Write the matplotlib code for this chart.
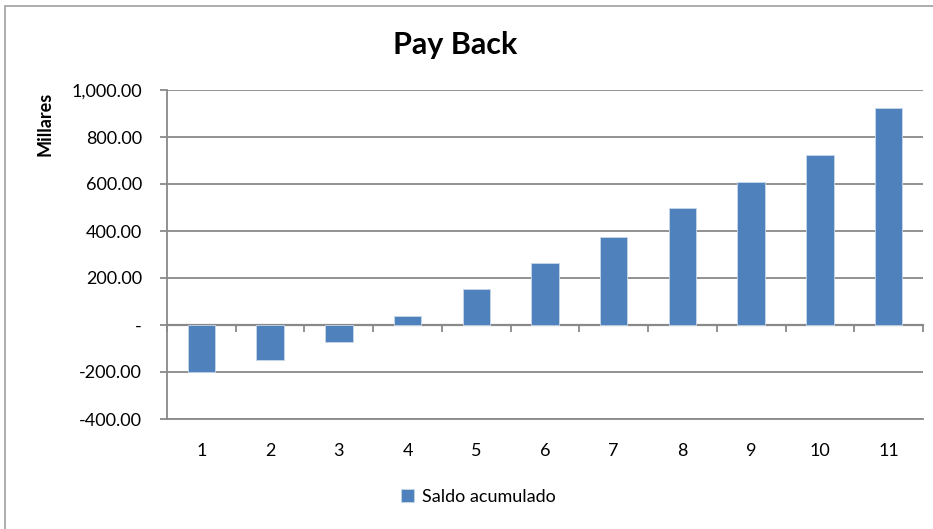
import matplotlib.pyplot as plt
from matplotlib.patches import Rectangle

periods = ['1', '2', '3', '4', '5', '6', '7', '8', '9', '10', '11']
saldo = [-200, -148, -72, 39, 152, 265, 376, 496, 609, 723, 923]
y_ticks = [-400, -200, 0, 200, 400, 600, 800, 1000]
y_labels = ['-400.00', '-200.00', '-', '200.00', '400.00', '600.00', '800.00', '1,000.00']

bar_color = '#4F81BD'
grid_color = '#898989'

plt.rcParams['font.family'] = ['Lato', 'DejaVu Sans']

fig = plt.figure(figsize=(9.33, 5.29), dpi=100)
ax = fig.add_axes([167 / 933, 1 - 419 / 529, (923 - 167) / 933, (419 - 90) / 529])

x = list(range(1, len(periods) + 1))
ax.bar(x, saldo, width=0.4, color=bar_color, edgecolor='#C9D7EA', linewidth=0.6,
       label='Saldo acumulado', zorder=3)

ax.set_xlim(0.5, len(periods) + 0.5)
ax.set_ylim(-400, 1000)
ax.set_yticks(y_ticks)
ax.set_yticklabels(y_labels, fontsize=13)
ax.yaxis.grid(True, color=grid_color, linewidth=1.3, zorder=0)

ax.set_xticks(x)
ax.set_xticklabels(periods, fontsize=13)
ax.tick_params(axis='x', length=0, pad=17)
ax.tick_params(axis='y', length=5, width=1.3, color=grid_color, pad=13)

for side in ['top', 'right']:
    ax.spines[side].set_visible(False)
ax.spines['bottom'].set_color(grid_color)
ax.spines['bottom'].set_linewidth(1.3)
ax.spines['left'].set_color(grid_color)
ax.spines['left'].set_linewidth(1.3)

# category axis crossing at zero, with tick marks between the bars
zero_frac = (0 - (-400)) / (1000 - (-400))
sec = ax.secondary_xaxis(zero_frac)
sec.set_xticks([i + 0.5 for i in range(len(periods) + 1)])
sec.set_xticklabels([])
sec.tick_params(length=5, width=1.3, color=grid_color)
sec.spines['bottom'].set_color(grid_color)
sec.spines['bottom'].set_linewidth(1.6)

fig.text(455 / 933, 1 - 45 / 529, 'Pay Back', ha='center', va='center',
         fontsize=22, fontweight='bold')
fig.text(45 / 933, 1 - 124 / 529, 'Millares', ha='center', va='center',
         rotation=90, fontsize=13, fontweight='bold')

fig.legend(loc='center', bbox_to_anchor=(478 / 933, 1 - 497 / 529), frameon=False,
           fontsize=13, handlelength=0.75, handleheight=0.75, handletextpad=0.4)

# chart area border (top and left edges visible in the reference)
fig.patches.append(Rectangle((5 / 933, -0.1), 1.2, 1.1 - 6 / 529,
                             transform=fig.transFigure, fill=False,
                             edgecolor='#A0A0A0', linewidth=1.2))

fig.savefig('out.png', dpi=100)
